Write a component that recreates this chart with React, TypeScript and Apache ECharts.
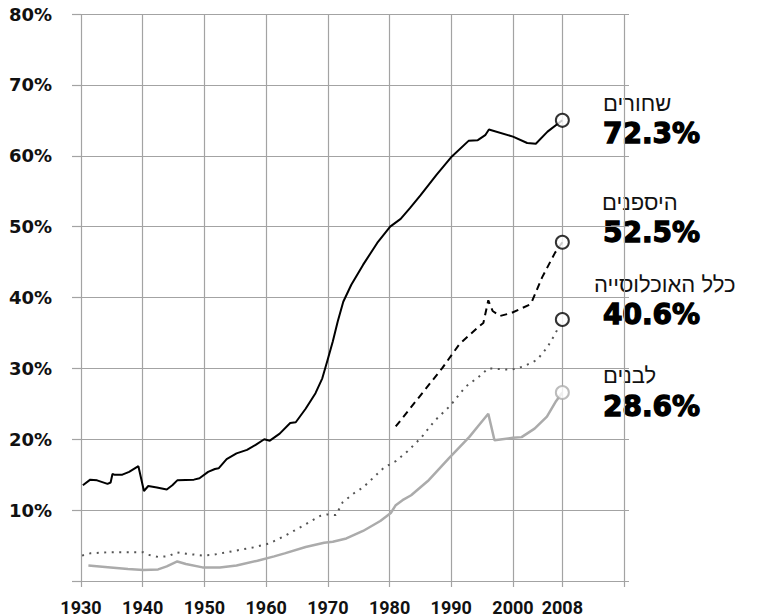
import React, { useEffect, useRef } from "react";
import * as echarts from "echarts";

// ---- data (year, percent) ----
const blackYears = [1930.3, 1931.5, 1932.6, 1934.3, 1934.8, 1935.1, 1935.4, 1936.7, 1937.8, 1939.3, 1940.2, 1940.9, 1942.3, 1943.9, 1944.8, 1945.6, 1948.3, 1949.2, 1950.6, 1951.7, 1952.3, 1953.6, 1955.2, 1956.9, 1958.3, 1959.7, 1960.6, 1962.2, 1963.9, 1964.8, 1966.4, 1968.0, 1969.1, 1969.9, 1970.8, 1971.6, 1972.5, 1973.8, 1975.7, 1978.0, 1980.1, 1981.8, 1983.3, 1985.0, 1987.6, 1990.1, 1992.8, 1994.3, 1995.5, 1996.1, 2000.0, 2002.3, 2003.7, 2005.6, 2008];
const blackValues = [13.5, 14.3, 14.2, 13.7, 13.9, 15.1, 15.0, 15.0, 15.4, 16.2, 12.7, 13.4, 13.2, 12.9, 13.5, 14.2, 14.3, 14.5, 15.4, 15.8, 15.9, 17.2, 18.0, 18.5, 19.2, 20.0, 19.8, 20.8, 22.3, 22.4, 24.3, 26.5, 28.6, 31.0, 33.8, 36.6, 39.4, 41.8, 44.6, 47.7, 50.0, 51.1, 52.6, 54.4, 57.3, 59.9, 62.1, 62.2, 62.9, 63.7, 62.7, 61.8, 61.7, 63.4, 65.0];

const hispanicYears = [1981.0, 1988.5, 1991.3, 1994.6, 1995.2, 1996.0, 1996.7, 1997.9, 1999.7, 2002.7, 2003.1, 2004.7, 2006.8, 2008];
const hispanicValues = [21.8, 30.0, 33.4, 36.0, 36.4, 39.6, 38.1, 37.4, 37.8, 39.0, 39.5, 42.8, 46.3, 47.8];

const totalYears = [1929.0, 1931.5, 1934.3, 1937.6, 1940.1, 1940.9, 1942.5, 1944.2, 1945.5, 1947.0, 1949.7, 1951.4, 1953.6, 1955.8, 1958.0, 1960.5, 1963.0, 1966.4, 1968.8, 1969.9, 1971.3, 1972.4, 1974.1, 1975.7, 1977.4, 1979.1, 1981.0, 1982.9, 1985.1, 1987.3, 1989.8, 1992.3, 1994.3, 1996.0, 1999.7, 2001.8, 2003.9, 2005.5, 2006.8, 2008];
const totalValues = [3.3, 3.9, 4.05, 4.05, 4.05, 3.7, 3.4, 3.5, 4.05, 3.85, 3.6, 3.7, 4.05, 4.4, 4.75, 5.3, 6.35, 8.0, 9.2, 9.4, 9.3, 11.1, 12.3, 13.2, 14.6, 16.0, 16.9, 18.3, 20.2, 22.6, 24.7, 27.4, 28.7, 30.0, 29.8, 30.3, 31.2, 32.9, 34.8, 36.9];

const whiteYears = [1931.2, 1934.8, 1937.6, 1940.1, 1942.5, 1943.9, 1945.6, 1947.0, 1949.7, 1952.5, 1955.2, 1958.6, 1961.3, 1963.0, 1966.4, 1969.4, 1970.8, 1973.0, 1975.7, 1978.5, 1980.2, 1981.0, 1982.1, 1983.5, 1986.2, 1989.6, 1992.9, 1994.5, 1996.0, 1997.0, 2000.0, 2001.4, 2003.5, 2005.5, 2007.0, 2008];
const whiteValues = [2.2, 1.92, 1.7, 1.55, 1.64, 2.06, 2.76, 2.39, 1.92, 1.92, 2.2, 2.86, 3.47, 3.9, 4.8, 5.4, 5.55, 6.0, 7.06, 8.47, 9.6, 10.7, 11.4, 12.1, 14.1, 17.3, 20.3, 22.0, 23.6, 19.85, 20.2, 20.3, 21.5, 23.2, 25.4, 26.6];

const xTickValues = [1930, 1940, 1950, 1960, 1970, 1980, 1990, 2000, 2008, 2018];
const xLabelValues = [1930, 1940, 1950, 1960, 1970, 1980, 1990, 2000, 2008];

const groupNames = ["שחורים", "היספנים", "כלל האוכלוסייה", "לבנים"];
const groupLabels = ["72.3%", "52.5%", "40.6%", "28.6%"];

const zip = (xs: number[], ys: number[]) => xs.map((x, i) => [x, ys[i]]);
const last = (xs: number[], ys: number[]) => [xs[xs.length - 1], ys[ys.length - 1]];

export default function App() {
  const ref = useRef<HTMLDivElement>(null);
  useEffect(() => {
    if (!ref.current) return;
    const chart = echarts.init(ref.current, undefined, { renderer: "svg" });
    const gridColor = "#a3a3a3";
    const nameX = [603, 602, 594, 603];
    const nameY = [103, 202, 284, 375];
    const valY = [133, 232, 314, 406];
    const graphics: any[] = [];
    groupNames.forEach((n, i) => {
      graphics.push({
        type: "text",
        x: nameX[i],
        y: nameY[i],
        style: {
          text: n,
          font: "22px 'Liberation Sans', 'DejaVu Sans', sans-serif",
          fill: "#111",
          textAlign: "left",
          textVerticalAlign: "middle",
        },
      });
      graphics.push({
        type: "text",
        x: 603,
        y: valY[i],
        style: {
          text: groupLabels[i],
          font: "bold 28px 'DejaVu Sans', sans-serif",
          fill: "#000",
          stroke: "#000",
          lineWidth: 1.3,
          textAlign: "left",
          textVerticalAlign: "middle",
        },
      });
    });

    chart.setOption({
      animation: false,
      grid: { left: 81, right: 132, top: 14, bottom: 33, containLabel: false },
      xAxis: {
        type: "value",
        min: 1930,
        max: 2018.8,
        axisLine: { show: false },
        axisTick: {
          show: true,
          length: 6,
          customValues: xTickValues,
          lineStyle: { color: gridColor, width: 1.2 },
        },
        axisLabel: {
          customValues: xLabelValues,
          margin: 17,
          color: "#111",
          fontFamily: "Roboto",
          fontWeight: "bold",
          fontSize: 18,
          formatter: (v: number) => String(v),
        },
        splitLine: { show: true, lineStyle: { color: gridColor, width: 1.2 } },
      },
      yAxis: {
        type: "value",
        min: 0,
        max: 80,
        interval: 10,
        axisLine: { show: false },
        axisTick: { show: true, length: 9, lineStyle: { color: gridColor, width: 1.2 } },
        axisLabel: {
          align: "left",
          margin: 72,
          color: "#111",
          fontFamily: "'DejaVu Sans'",
          fontWeight: "bold",
          fontSize: 18,
          formatter: (v: number) => (v === 0 ? "" : v + "%"),
        },
        splitLine: { show: true, lineStyle: { color: gridColor, width: 1.2 } },
      },
      graphic: graphics,
      series: [
        {
          type: "line",
          data: zip(whiteYears, whiteValues),
          showSymbol: false,
          lineStyle: { color: "#ababab", width: 2.5 },
          z: 3,
        },
        {
          type: "line",
          data: zip(totalYears, totalValues),
          showSymbol: false,
          clip: false,
          lineStyle: { color: "#555", width: 2, type: [2, 5.5] },
          z: 3,
        },
        {
          type: "line",
          data: zip(hispanicYears, hispanicValues),
          showSymbol: false,
          lineStyle: { color: "#000", width: 2, type: [7, 5] },
          z: 3,
        },
        {
          type: "line",
          data: zip(blackYears, blackValues),
          showSymbol: false,
          lineStyle: { color: "#000", width: 2 },
          z: 3,
        },
        {
          type: "scatter",
          data: [last(blackYears, blackValues), last(hispanicYears, hispanicValues), last(totalYears, totalValues)],
          symbol: "circle",
          symbolSize: 13,
          itemStyle: { color: "#fff", borderColor: "#000", borderWidth: 2 },
          z: 5,
        },
        {
          type: "scatter",
          data: [last(whiteYears, whiteValues)],
          symbol: "circle",
          symbolSize: 13,
          itemStyle: { color: "#fff", borderColor: "#ababab", borderWidth: 2 },
          z: 5,
        },
      ],
    });
    return () => chart.dispose();
  }, []);
  return <div ref={ref} style={{ width: 761, height: 616, position: "absolute", left: 0, top: 0 }} />;
}
